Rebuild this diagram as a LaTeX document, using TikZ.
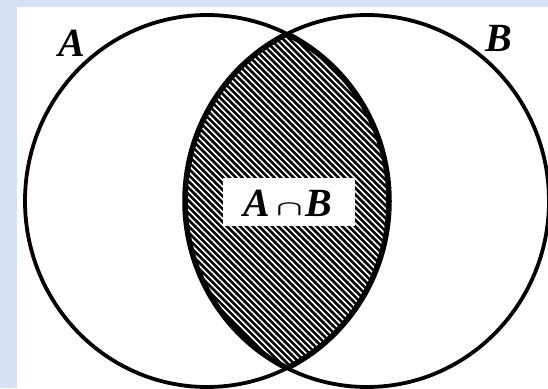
\documentclass[tikz,border=0pt]{standalone}
\usepackage{fontspec}
\usepackage{amsmath}
\setmainfont{Liberation Serif}
\definecolor{bgblue}{RGB}{212,226,244}
\tikzset{
  circ/.style={line width=3.8pt},
  lensedge/.style={line width=5.5pt},
  hatch/.style={line width=2.6pt},
  setlabel/.style={font=\fontsize{40}{44}\selectfont\bfseries\itshape, inner sep=0pt},
}
\begin{document}
\begin{tikzpicture}[x=1pt,y=-1pt]
\useasboundingbox (0,0) rectangle (548,388);
\clip (0,0) rectangle (548,388);
\fill[bgblue] (0,0) rectangle (548,388);
\fill[white] (17,7) rectangle (548,388);
% hatched lens
\begin{scope}
  \clip (207,201) ellipse [x radius=182pt, y radius=186pt];
  \clip (367,201) ellipse [x radius=182pt, y radius=186pt];
  \foreach \c in {-300,-293.6,...,420}
    \draw[hatch] (\c,0) -- ({\c+400},400);
\end{scope}
% thicker lens border
\begin{scope}
  \clip (207,201) ellipse [x radius=182pt, y radius=186pt];
  \draw[lensedge] (367,201) ellipse [x radius=182pt, y radius=186pt];
\end{scope}
\begin{scope}
  \clip (367,201) ellipse [x radius=182pt, y radius=186pt];
  \draw[lensedge] (207,201) ellipse [x radius=182pt, y radius=186pt];
\end{scope}
% circles
\draw[circ] (207,201) ellipse [x radius=182pt, y radius=186pt];
\draw[circ] (367,201) ellipse [x radius=182pt, y radius=186pt];
% labels
\node[fill=white, minimum width=132pt, minimum height=48pt, inner sep=0pt] (ABbox) at (289,202) {};
\node[setlabel] (AB) at (288,203) {A\hspace{6pt}\raisebox{1pt}{\scalebox{1.4}[0.85]{$\boldsymbol{\cap}$}}\hspace{3pt}B};
\node[setlabel] (Alabel) at (72,43) {A};
\node[setlabel] (Blabel) at (499,38) {B};
\end{tikzpicture}
\end{document}
